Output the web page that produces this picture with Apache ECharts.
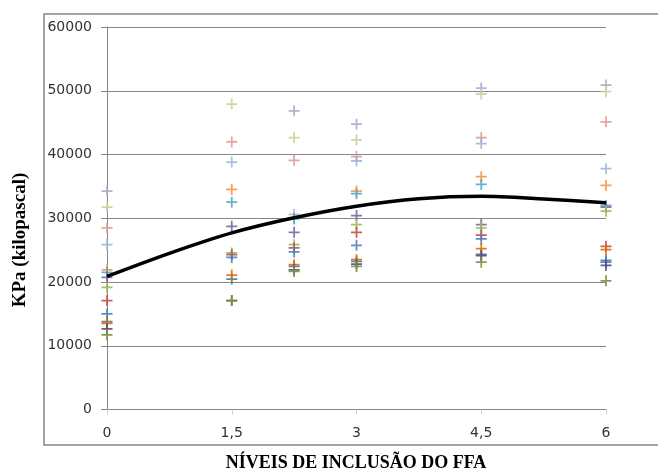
<!DOCTYPE html>
<html>
<head>
<meta charset="utf-8">
<script src="https://cdn.jsdelivr.net/npm/echarts@6/dist/echarts.min.js"></script>
<style>
html,body{margin:0;padding:0;background:#fff;}
#chart{width:658px;height:474px;}
</style>
</head>
<body>
<div id="chart"></div>
<script>
// X positions (níveis de inclusão do FFA)
const levels = [0, 1.5, 2.25, 3, 4.5, 6];
const xTicks = [0, 1.5, 3, 4.5, 6];
const yTicks = [0, 10000, 20000, 30000, 40000, 50000, 60000];

// Replicate series (KPa), one value per level
const s1  = [34260, null, 46860, 44760, 50430, 50900];
const s2  = [31740, 47910, 42660, 42290, 49490, 49850];
const s3  = [28490, 41970, 39090, 39670, 42660, 45120];
const s4  = [25860, 38820, 30590, 38980, 41720, 37780];
const s5  = [21920, 34520, 30070, 34260, 36520, 35150];
const s6  = [21500, 32520, 29900, 33850, 35310, 32000];
const s7  = [20710, 28740, 27800, 30430, 29010, 31740];
const s8  = [19140, 24550, 25860, 29010, 28490, 31110];
const s9  = [17090, 24290, 25340, 27800, 27360, 25590];
const s10 = [14990, 23860, 24710, 25750, 26760, 23390];
const s11 = [13780, 20460, 22440, 23230, 24330, 23100];
const s12 = [13530, 21090, 22710, 23500, 25230, 25070];
const s13 = [12630, 17090, 21920, 22820, 24130, 22590];
const s14 = [11690, 17090, 21660, 22440, 23100, 20190];

// Trend line points
const trendX = [0, 0.75, 1.5, 2.25, 3, 3.75, 4.5, 5.25, 6];
const trendY = [20880, 24500, 27700, 30070, 31890, 33060, 33450, 33030, 32430];

const seriesValues = [s1,s2,s3,s4,s5,s6,s7,s8,s9,s10,s11,s12,s13,s14];
const seriesColors = ['#b3a5cc','#c3d69b','#dc9c9a','#9fb8da','#f79646','#4bacc6','#8064a2','#9bbb59','#c0504d','#4f81bd','#31859c','#e46c0a','#5f497a','#77933c'];

const plus = 'path://M4.2,0h1.6v4.2h4.2v1.6h-4.2v4.2h-1.6v-4.2h-4.2v-1.6h4.2z';

const series = seriesValues.map((vals, i) => ({
  type: 'scatter',
  symbol: plus,
  symbolSize: 11,
  itemStyle: { color: seriesColors[i], opacity: 0.9 },
  data: levels.map((x, j) => vals[j] == null ? null : [x, vals[j]]).filter(d => d),
  z: 3
}));

series.push({
  type: 'line',
  smooth: 0.3,
  showSymbol: false,
  symbol: 'none',
  lineStyle: { color: '#000', width: 3.5 },
  data: trendX.map((x, i) => [x, trendY[i]]),
  z: 5
});

const chart = echarts.init(document.getElementById('chart'), null, {renderer: 'canvas'});
chart.setOption({
  animation: false,
  backgroundColor: '#fff',
  grid: { left: 107, right: 52, top: 27, bottom: 64.5 },
  xAxis: {
    type: 'value',
    min: xTicks[0],
    max: xTicks[xTicks.length - 1],
    interval: 1.5,
    axisLine: { show: true, lineStyle: { color: '#868686', width: 1 } },
    axisTick: { show: true, length: 5, lineStyle: { color: '#d0d0d0', width: 1 } },
    axisLabel: {
      margin: 17,
      color: '#333',
      fontFamily: 'DejaVu Sans',
      fontSize: 14,
      formatter: v => String(v).replace('.', ',')
    },
    splitLine: { show: false }
  },
  yAxis: {
    type: 'value',
    min: yTicks[0],
    max: yTicks[yTicks.length - 1],
    interval: 10000,
    axisLine: { show: true, lineStyle: { color: '#868686', width: 1 } },
    axisTick: { show: true, inside: false, length: 6, lineStyle: { color: '#868686' } },
    axisLabel: {
      margin: 15,
      color: '#333',
      fontFamily: 'DejaVu Sans',
      fontSize: 14,
      formatter: v => String(v)
    },
    splitLine: { show: true, lineStyle: { color: '#868686', width: 1 } }
  },
  graphic: [
    {
      type: 'rect',
      shape: { x: 44, y: 14, width: 640, height: 431 },
      style: { fill: 'none', stroke: '#868686', lineWidth: 1.5 },
      silent: true, z: -1
    },
    {
      type: 'text',
      x: 356, y: 463,
      style: {
        text: 'NÍVEIS DE INCLUSÃO DO FFA',
        fontFamily: 'Liberation Serif', fontWeight: 'bold', fontSize: 18,
        fill: '#000', align: 'center', verticalAlign: 'middle'
      }
    },
    {
      type: 'text',
      x: 20, y: 240,
      rotation: Math.PI / 2,
      style: {
        text: 'KPa (kilopascal)',
        fontFamily: 'Liberation Serif', fontWeight: 'bold', fontSize: 19,
        fill: '#000', align: 'center', verticalAlign: 'middle'
      }
    }
  ],
  series: series
});
</script>
</body>
</html>
